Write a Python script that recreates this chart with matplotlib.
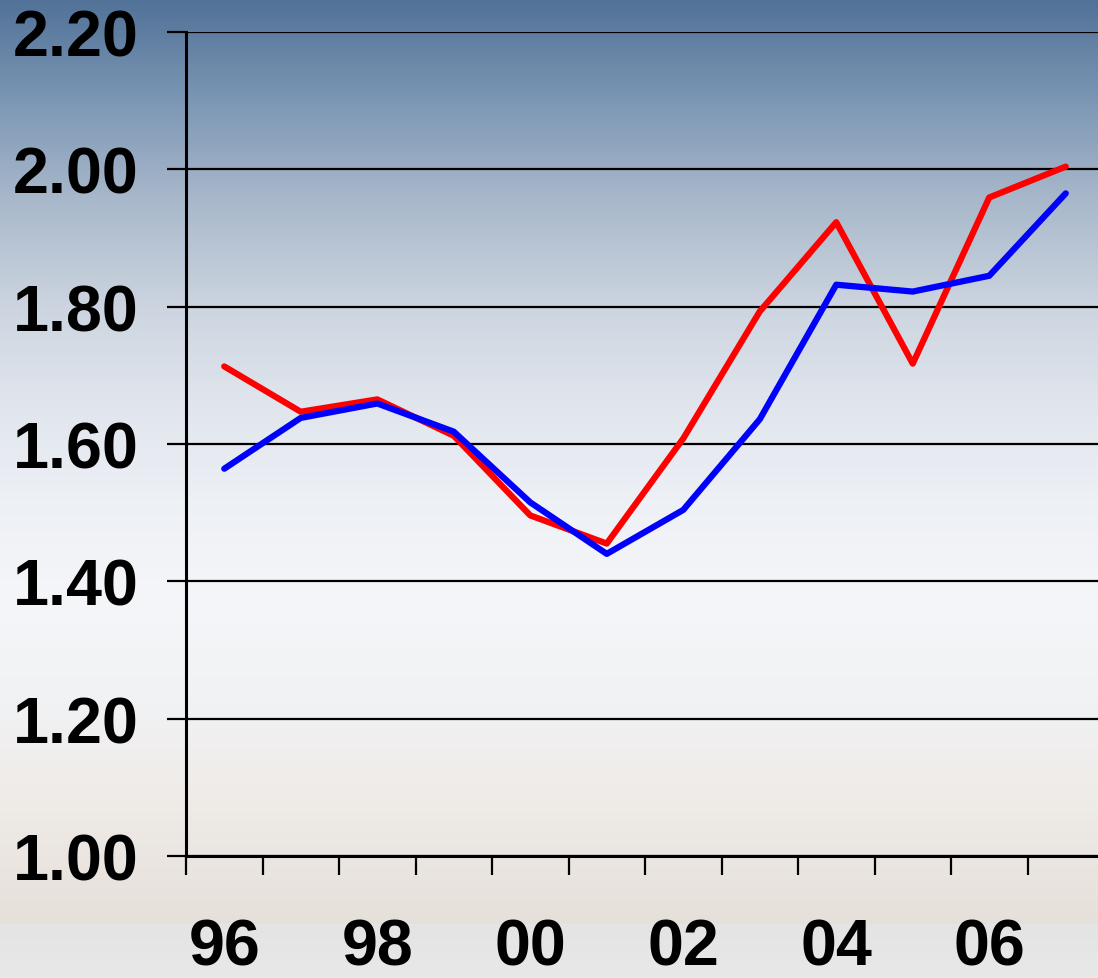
import numpy as np
import matplotlib.pyplot as plt
from matplotlib.colors import LinearSegmentedColormap

years = ["96", "97", "98", "99", "00", "01", "02", "03", "04", "05", "06", "07"]
red_values = [1.713, 1.647, 1.665, 1.612, 1.496, 1.455, 1.608, 1.793, 1.923, 1.717, 1.959, 2.004]
blue_values = [1.564, 1.638, 1.659, 1.618, 1.515, 1.440, 1.504, 1.636, 1.832, 1.822, 1.845, 1.965]
y_ticks = [1.00, 1.20, 1.40, 1.60, 1.80, 2.00, 2.20]

plt.rcParams['font.family'] = ['Liberation Sans', 'DejaVu Sans']

fig = plt.figure(figsize=(10.98, 9.79), dpi=100)

# background gradient (top blue -> white -> warm grey), grey strip at bottom
bg = fig.add_axes([0, 0, 1, 1])
bg.set_axis_off()
stops = [(0.0, "#527298"), (0.10, "#7b96b4"), (0.20, "#a7b7ca"), (0.31, "#cbd4df"),
         (0.41, "#e0e5ed"), (0.51, "#edf0f5"), (0.61, "#f4f6f9"), (0.72, "#f1f2f4"),
         (0.82, "#efebe7"), (0.947, "#e6e0da"), (0.948, "#e4e4e4"), (1.0, "#e8e8e8")]
cmap = LinearSegmentedColormap.from_list("bg", stops)
grad = np.linspace(0, 1, 979).reshape(-1, 1)
bg.imshow(grad, cmap=cmap, aspect="auto", extent=[0, 1, 0, 1], origin="upper")
bg.set_xlim(0, 1)
bg.set_ylim(0, 1)

ax = fig.add_axes([186 / 1098, 122 / 979, 918 / 1098, 824 / 979])
ax.patch.set_alpha(0)

x = np.arange(len(years))
ax.plot(x, red_values, color="#ff0000", lw=4.5, solid_capstyle="round", solid_joinstyle="round")
ax.plot(x, blue_values, color="#0000ff", lw=4.5, solid_capstyle="round", solid_joinstyle="round")

ax.set_xlim(-0.5, 11.5)
ax.set_ylim(1.0, 2.2)
ax.set_yticks(y_ticks)
ax.set_yticklabels([f"{v:.2f}" for v in y_ticks])
ax.set_xticks(x[::2])
ax.set_xticklabels(years[::2])
ax.set_xticks(np.arange(-0.5, 11.5, 1), minor=True)

ax.yaxis.grid(True, color="black", lw=1.6)
ax.set_axisbelow(True)

for s in ["top", "right"]:
    ax.spines[s].set_visible(False)
ax.spines["left"].set_linewidth(2.2)
ax.spines["bottom"].set_linewidth(2.2)

ax.tick_params(axis="y", direction="out", length=14, width=1.6, pad=20,
               labelsize=46.5)
ax.tick_params(axis="x", which="major", length=0, pad=44, labelsize=46.5)
ax.tick_params(axis="x", which="minor", direction="out", length=14, width=1.6)
for lab in ax.get_xticklabels() + ax.get_yticklabels():
    lab.set_fontweight("bold")

plt.savefig("out.png", dpi=100)
